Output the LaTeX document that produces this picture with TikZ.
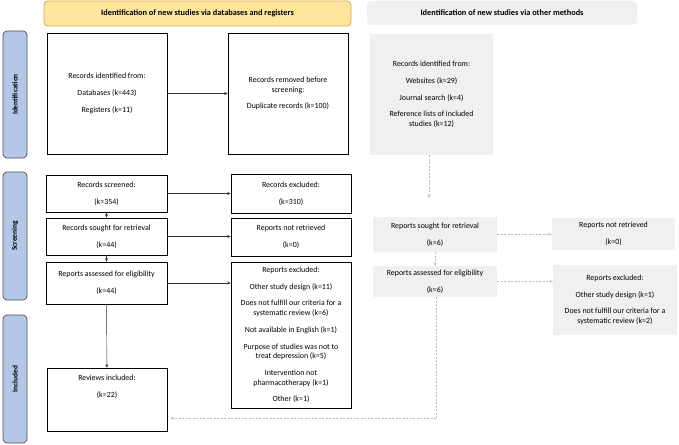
\documentclass[tikz,border=0pt]{standalone}
\usepackage{fontspec}
\setmainfont{Carlito}
\usetikzlibrary{arrows.meta}
\definecolor{hdryel}{HTML}{FDE59C}
\definecolor{hdrbrd}{HTML}{D9A84B}
\definecolor{barblue}{HTML}{B4C7E7}
\definecolor{bargray}{HTML}{4D4D4D}
\definecolor{lgray}{HTML}{F0F0F0}
\definecolor{dgray}{HTML}{BDBDBD}
\begin{document}
\begin{tikzpicture}[x=1pt,y=-1pt,
  every node/.style={inner sep=1pt, font=\fontsize{7.9}{9.7}\selectfont, align=center},
  wbox/.style={draw=black, line width=0.6pt, fill=white},
  gbox/.style={fill=lgray},
  sidebar/.style={draw=bargray, line width=0.7pt, fill=barblue, rounded corners=4pt},
  sidelabel/.style={rotate=90, font=\fontsize{7.4}{8}\selectfont\bfseries},
  hdr/.style={rounded corners=4pt, font=\fontsize{8.3}{9}\selectfont\bfseries},
  arr/.style={-{Stealth[length=3.5pt,width=3pt]}, line width=0.45pt, draw=black!80},
  darr/.style={-{Stealth[length=3.5pt,width=3pt]}, line width=0.5pt, draw=dgray, dash pattern=on 2pt off 1.5pt},
  dline/.style={line width=0.5pt, draw=dgray, dash pattern=on 2pt off 1.5pt}
]
\useasboundingbox (0,0) rectangle (679,444);
\def\pg{\\[7pt]}
% headers
\node[hdr, draw=hdrbrd, line width=0.8pt, fill=hdryel, minimum width=307pt, minimum height=25pt] (hy) at (197.5,13.5) {Identification of new studies via databases and registers};
\node[hdr, fill=lgray, minimum width=270pt, minimum height=24pt] (hg) at (502,13) {Identification of new studies via other methods};
% side bars
\node[sidebar, minimum width=24pt, minimum height=127pt] (bi) at (15,94.5) {};
\node[sidelabel] (bit) at (bi.center) {Identification};
\node[sidebar, minimum width=24pt, minimum height=128pt] (bs) at (15,236) {};
\node[sidelabel] (bst) at (bs.center) {Screening};
\node[sidebar, minimum width=24pt, minimum height=128pt] (bn) at (15,379) {};
\node[sidelabel] (bnt) at (bn.center) {Included};
% left column
\node[wbox, minimum width=120pt, minimum height=121pt] (id1) at (107,93.5) {Records identified from:\pg Databases (k=443)\pg Registers (k=11)};
\node[wbox, minimum width=120pt, minimum height=121pt] (rem) at (288,93.5) {Records removed before\\screening:\pg Duplicate records (k=100)};
\node[wbox, minimum width=121pt, minimum height=37pt] (scr) at (106.5,193.5) {Records screened:\pg (k=354)};
\node[wbox, minimum width=120pt, minimum height=39pt] (exc) at (291,193.5) {Records excluded:\pg (k=310)};
\node[wbox, minimum width=121pt, minimum height=37pt] (sou) at (106.5,236.5) {Records sought for retrieval\pg (k=44)};
\node[wbox, minimum width=120pt, minimum height=38pt] (nret) at (291,237) {Reports not retrieved\pg (k=0)};
\node[wbox, minimum width=121pt, minimum height=42pt] (ass) at (106.5,283) {Reports assessed for eligibility\pg (k=44)};
\node[wbox, minimum width=120pt, minimum height=146pt] (rexc) at (291,335) {Reports excluded:\pg Other study design (k=11)\pg Does not fulfill our criteria for a\\systematic review (k=6)\pg Not available in English (k=1)\pg Purpose of studies was not to\\treat depression (k=5)\pg Intervention not\\pharmacotherapy (k=1)\pg Other (k=1)};
\node[wbox, minimum width=120pt, minimum height=63pt] (inc) at (107,399.5) {};
\node[anchor=north] (inct) at (107,374) {Reviews included:\pg (k=22)};
% right column
\node[gbox, minimum width=123pt, minimum height=121pt] (oth) at (431.5,94.5) {Records identified from:\pg Websites (k=29)\pg Journal search (k=4)\pg Reference lists of included\\studies (k=12)};
\node[gbox, minimum width=124pt, minimum height=35pt] (osou) at (435,234.5) {Reports sought for retrieval\pg (k=6)};
\node[gbox, minimum width=123pt, minimum height=32pt] (onret) at (613.5,234) {Reports not retrieved\pg (k=0)};
\node[gbox, minimum width=124pt, minimum height=31pt] (oass) at (435,281.5) {Reports assessed for eligibility\pg (k=6)};
\node[gbox, minimum width=124pt, minimum height=70pt] (oexc) at (615,300) {Reports excluded:\pg Other study design (k=1)\pg Does not fulfill our criteria for a\\systematic review (k=2)};
% connectors left
\draw[arr] (id1) -- (rem);
\draw[arr] (scr) -- (exc);
\draw[arr] (sou) -- (sou -| nret.west);
\draw[arr] (ass) -- (ass -| rexc.west);
\draw[arr] (scr) -- (sou);
\draw[arr] (sou) -- (ass);
\draw[arr] (ass) -- (inc);
% connectors right
\coordinate (othend) at (429,198);
\draw[darr] (oth.south -| othend) -- (othend);
\draw[darr] (osou) -- (osou -| onret.west);
\draw[darr] (oass.east) -- (oass.east -| oexc.west);
\draw[darr] (osou) -- (oass);
\coordinate (turn) at (436,418);
\coordinate (incin) at ([xshift=3pt]inc.east |- turn);
\draw[dline] (oass.south -| turn) -- (turn);
\draw[darr] (turn) -- (incin);
\end{tikzpicture}
\end{document}
